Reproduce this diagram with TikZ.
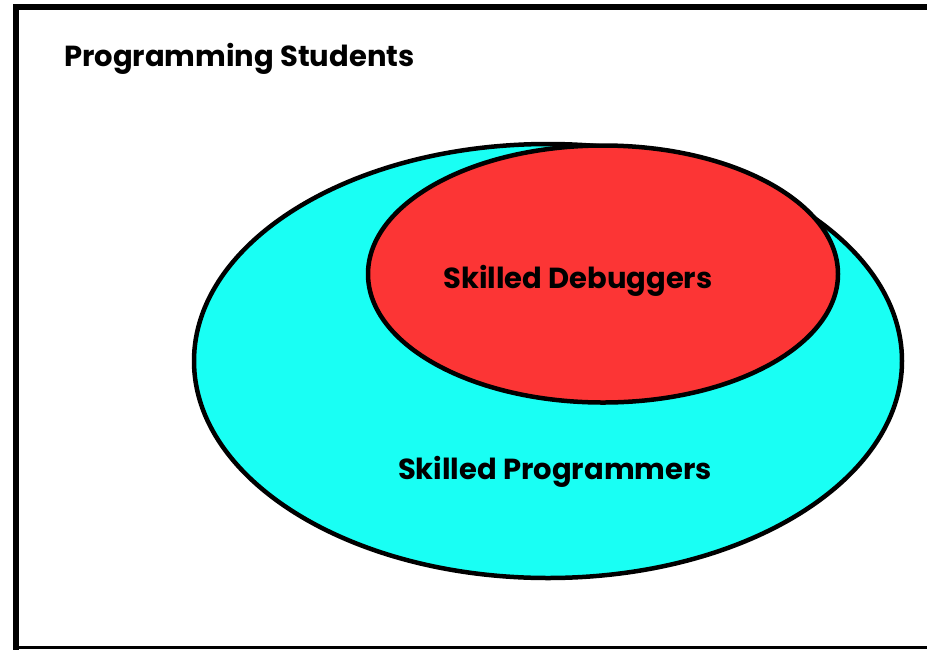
\documentclass[tikz,border=0pt]{standalone}
\usepackage{fontspec}
\setmainfont{Poppins}
\usetikzlibrary{shapes.geometric}

\tikzset{
  setblob/.style={draw=black, line width=4.5pt, ellipse, inner sep=0pt},
  setlabel/.style={font=\bfseries\fontsize{29}{34}\selectfont, inner sep=0pt}
}

\begin{document}
\begin{tikzpicture}[x=1pt, y=-1pt]
  \useasboundingbox (0,0) rectangle (927,649);
  \fill[white] (0,0) rectangle (927,649);

  % outer frame, right side runs off the page
  \draw[line width=6pt] (940,7) -- (16,7) -- (16,651);
  \draw[line width=2.5pt] (16,647.5) -- (940,647.5);

  \node[setlabel, anchor=west] (students) at (64,59) {Programming Students};

  % the two sets
  \node[setblob, fill={rgb,255:red,25;green,255;blue,244}, minimum width=708pt, minimum height=434pt] (progs) at (548,361) {};
  \node[setblob, fill={rgb,255:red,252;green,53;blue,53}, minimum width=470pt, minimum height=257pt] (debug) at (603,274) {};

  \node[setlabel] (debuglbl) at (578,281) {Skilled Debuggers};
  \node[setlabel] (proglbl) at (555,472) {Skilled Programmers};
\end{tikzpicture}
\end{document}
